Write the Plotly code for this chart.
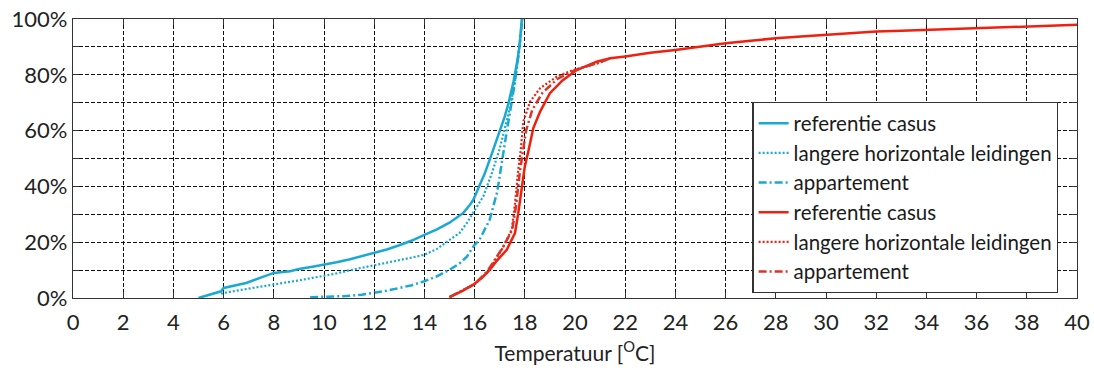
import plotly.graph_objects as go

# ---- data ----
cyan_ref_x = [5.0, 5.5, 5.9, 6.0, 6.5, 6.9, 7.45, 7.85, 8.0, 8.65, 9.0, 9.6, 10.0, 10.5, 11.0, 11.5,
              12.0, 12.5, 13.0, 13.5, 14.0, 14.5, 15.0, 15.3, 15.55, 15.8, 15.95, 16.2, 16.4, 16.6,
              16.8, 17.0, 17.2, 17.35, 17.55, 17.7, 17.8, 17.88]
cyan_ref_y = [0.0, 1.2, 2.4, 3.6, 4.6, 5.4, 7.2, 8.6, 9.0, 9.6, 10.4, 11.3, 11.9, 12.8, 13.8, 15.0,
              16.1, 17.4, 18.9, 20.6, 22.6, 24.6, 27.0, 28.8, 30.5, 33.2, 35.2, 40.4, 44.5, 49.5,
              54.5, 60.0, 65.0, 69.8, 77.5, 85.0, 91.0, 100.0]

cyan_long_x = [5.9, 6.0, 6.5, 7.0, 7.5, 8.0, 8.5, 9.0, 9.6, 10.0, 10.5, 11.0, 11.5, 12.0, 12.5, 13.0,
               13.5, 14.0, 14.5, 15.0, 15.4, 15.7, 16.1, 16.35, 16.7, 17.0, 17.35, 17.6, 17.75, 17.9]
cyan_long_y = [1.5, 1.8, 2.6, 3.4, 4.1, 4.8, 5.6, 6.3, 7.2, 7.9, 8.8, 9.9, 10.8, 11.6, 12.6, 13.6,
               14.5, 15.5, 17.6, 20.8, 23.3, 27.0, 32.8, 36.5, 45.0, 53.5, 66.0, 77.0, 87.0, 100.0]

cyan_app_x = [9.45, 10.0, 10.5, 10.9, 11.5, 12.0, 12.5, 13.0, 13.5, 14.0, 14.5, 15.0, 15.4, 15.7,
              15.95, 16.2, 16.6, 16.9, 17.1, 17.25, 17.4, 17.6, 17.75, 17.9]
cyan_app_y = [0.3, 0.5, 0.6, 0.7, 1.2, 1.8, 2.6, 3.6, 4.6, 6.0, 7.8, 10.1, 12.4, 14.9,
              18.5, 21.0, 28.0, 38.0, 50.0, 58.0, 66.0, 77.0, 87.0, 100.0]

red_ref_x = [15.0, 15.5, 15.95, 16.3, 16.6, 16.9, 17.28, 17.5, 17.61, 17.74, 17.88, 18.0, 18.14, 18.34,
             18.61, 19.0, 19.5, 20.07, 20.86, 21.4, 22.0, 23.0, 24.0, 25.0, 26.0, 27.0, 28.0, 29.0,
             30.0, 31.0, 32.0, 33.0, 34.0, 35.0, 36.0, 37.0, 38.0, 39.0, 40.0]
red_ref_y = [0.3, 2.5, 4.8, 7.3, 10.1, 13.5, 17.3, 21.5, 23.3, 30.4, 40.0, 47.1, 52.5, 60.9,
             66.8, 73.4, 78.0, 81.7, 84.7, 85.9, 86.6, 87.9, 88.9, 90.1, 91.3, 92.2, 93.1, 93.7,
             94.3, 94.9, 95.5, 95.8, 96.1, 96.4, 96.7, 97.1, 97.5, 97.7, 97.9]

red_long_x = [15.0, 15.5, 16.0, 16.5, 17.08, 17.48, 17.61, 17.74, 17.84, 17.94, 18.21, 18.61, 19.27,
              19.93, 20.5, 21.0, 21.4]
red_long_y = [0.3, 2.5, 5.0, 9.0, 17.3, 24.5, 34.0, 46.0, 53.1, 63.2, 70.4, 75.2, 79.3,
              81.7, 83.2, 84.4, 85.9]

red_app_x = [15.0, 15.5, 16.0, 16.5, 17.15, 17.5, 17.65, 17.8, 17.92, 18.05, 18.3, 18.7, 19.3,
             20.0, 21.0, 21.4]
red_app_y = [0.3, 2.5, 5.0, 9.5, 18.5, 24.5, 33.0, 45.0, 52.0, 60.0, 67.5, 73.5, 78.5,
             81.7, 84.5, 85.9]

x_ticks = list(range(0, 41, 2))
y_ticks = [0, 20, 40, 60, 80, 100]
y_tick_text = ["0%", "20%", "40%", "60%", "80%", "100%"]
y_minor_ticks = [10, 30, 50, 70, 90]

CYAN = "#1aa9d1"
RED = "#f0200f"
RED_DARK = "#d8342a"
FONT = "Lato"

series = [
    ("referentie casus", cyan_ref_x, cyan_ref_y, CYAN, "solid", 2.5),
    ("langere horizontale leidingen", cyan_long_x, cyan_long_y, CYAN, "2px,2px", 2.2),
    ("appartement", cyan_app_x, cyan_app_y, CYAN, "8px,3px,2px,3px", 2.5),
    ("referentie casus", red_ref_x, red_ref_y, RED, "solid", 2.5),
    ("langere horizontale leidingen", red_long_x, red_long_y, RED, "2px,2px", 2.2),
    ("appartement", red_app_x, red_app_y, RED_DARK, "8px,3px,2px,3px", 2.5),
]

fig = go.Figure()
for name, xs, ys, col, dash, w in series:
    fig.add_trace(go.Scatter(x=xs, y=ys, mode="lines", name=name,
                             line=dict(color=col, dash=dash, width=w)))

GRID = dict(gridcolor="#111", griddash="4px,2px", gridwidth=1)
axis_common = dict(
    showline=True, linecolor="#333", linewidth=1.3, mirror="ticks",
    ticks="inside", ticklen=6, tickcolor="#333", tickwidth=1.3,
    showgrid=True, zeroline=False, automargin=False,
    tickfont=dict(family=FONT, size=22, color="#222"),
    **GRID,
)

fig.update_xaxes(range=[0, 40], tickmode="array", tickvals=x_ticks,
                 ticktext=[str(t) for t in x_ticks], ticklabelstandoff=4,
                 title=dict(text="Temperatuur [<sup>O</sup>C]",
                            font=dict(family=FONT, size=21, color="#222"), standoff=12),
                 **axis_common)
fig.update_yaxes(range=[0, 100], tickmode="array", tickvals=y_ticks, ticktext=y_tick_text,
                 minor=dict(tickmode="array", tickvals=y_minor_ticks, showgrid=True,
                            ticks="inside", ticklen=6, tickcolor="#333", tickwidth=1.3, **GRID),
                 **axis_common)

fig.update_layout(
    width=1094, height=368,
    margin=dict(l=73, r=17, t=19, b=70, autoexpand=False),
    plot_bgcolor="white", paper_bgcolor="white",
    showlegend=True,
    legend=dict(x=0.829, y=0.36, xanchor="center", yanchor="middle",
                bgcolor="white", bordercolor="#333", borderwidth=1.3,
                font=dict(family=FONT, size=20.5, color="#1a1a1a"),
                tracegroupgap=0),
)

fig.write_html("out.html")
